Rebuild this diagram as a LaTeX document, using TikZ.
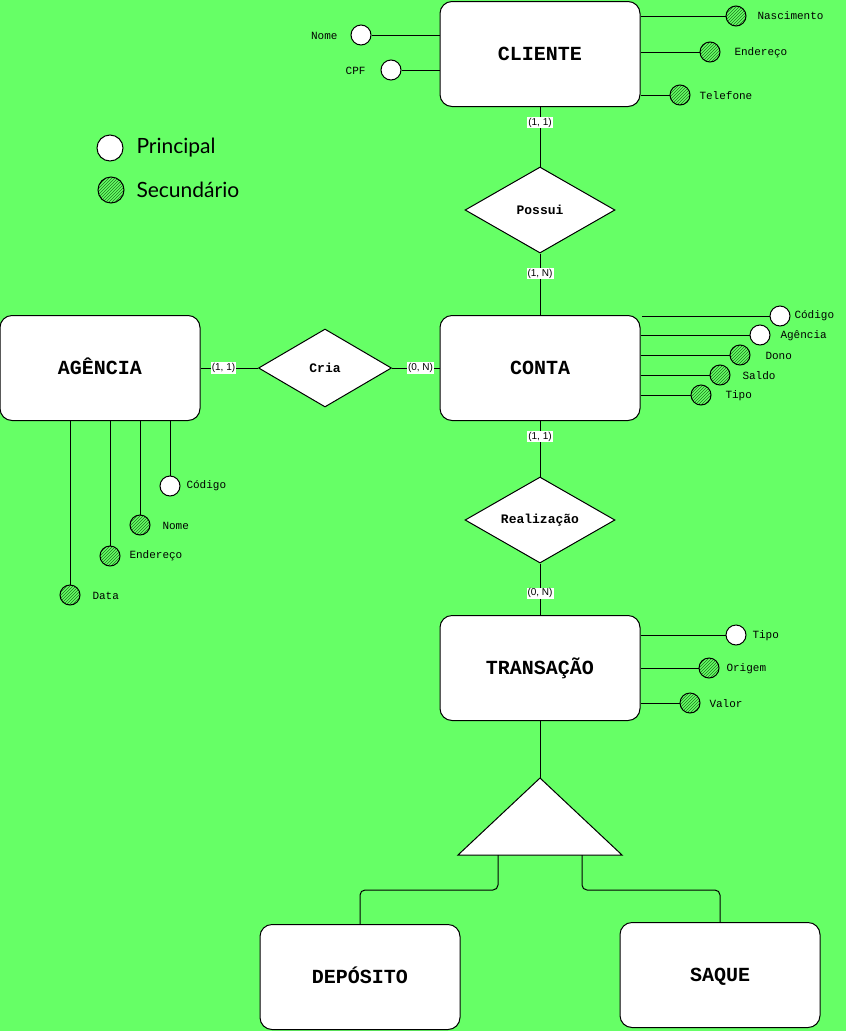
\documentclass[tikz,border=0pt]{standalone}
\usepackage{fontspec}
\setmonofont{Liberation Mono}
\newfontfamily\cardfont{Liberation Sans}
\newfontfamily\legendfont{Lato}
\usetikzlibrary{positioning, shapes.geometric, patterns}
\definecolor{fundo}{HTML}{66FF66}
\definecolor{hachura}{HTML}{1E7A1E}
\tikzset{
  entidade/.style={draw, fill=white, rounded corners=12pt, minimum width=200pt, minimum height=105pt, text height=12pt, text depth=0pt, font=\ttfamily\bfseries\fontsize{20}{24}\selectfont}, % entity boxes
  relacao/.style={draw, diamond, fill=white, aspect=1.75, minimum width=150pt, minimum height=86pt, inner sep=0pt, font=\ttfamily\bfseries\fontsize{13}{15}\selectfont}, % relationships
  principal/.style={draw, circle, fill=white, minimum size=20pt, inner sep=0pt}, % key attribute
  secundario/.style={draw, circle, pattern=north east lines, pattern color=hachura, minimum size=20pt, inner sep=0pt}, % other attribute
  rotulo/.style={anchor=west, inner sep=0pt, font=\ttfamily\fontsize{11}{13}\selectfont}, % attribute names
  card/.style={fill=white, inner sep=1pt, font=\cardfont\fontsize{10}{12}\selectfont}, % cardinalities
  legenda/.style={anchor=west, inner sep=0pt, font=\legendfont\fontsize{21}{24}\selectfont}, % legend text
}

\begin{document}
\begin{tikzpicture}[x=1pt, y=-1pt, on grid, line width=1pt]
  \fill[fundo] (0,0) rectangle (846,1031);
  \useasboundingbox (0,0) rectangle (846,1031);

  % legend
  \node[principal, minimum size=26pt] (lprin) at (110,148) {};
  \node[legenda] (tprin) at (136,148) {Principal};
  \node[secundario, minimum size=26pt] (lsec) at (111,190) {};
  \node[legenda] (tsec) at (136,190) {Secundário};

  % entities and relationships
  \node[entidade] (cliente) at (540,54) {CLIENTE};
  \node[relacao, below=156pt of cliente] (possui) {Possui};
  \node[entidade, below=158pt of possui] (conta) {CONTA};
  \node[relacao, left=215pt of conta, minimum width=133pt, minimum height=78pt] (cria) {Cria};
  \node[entidade, left=440pt of conta] (agencia) {AGÊNCIA};
  \node[relacao, below=152pt of conta] (realizacao) {Realização};
  \node[entidade, below=148pt of realizacao] (transacao) {TRANSAÇÃO};
  \node[entidade] (deposito) at (360,977) {DEPÓSITO};
  \node[entidade] (saque) at (720,975) {SAQUE};

  \draw (cliente) -- node[card, pos=0.26]{(1, 1)} (possui);
  \draw (possui) -- node[card, pos=0.33]{(1, N)} (conta);
  \draw (agencia) -- node[card, pos=0.4]{(1, 1)} (cria);
  \draw (cria) -- node[card, pos=0.6]{(0, N)} (conta);
  \draw (conta) -- node[card, pos=0.28]{(1, 1)} (realizacao);
  \draw (realizacao) -- node[card, pos=0.58]{(0, N)} (transacao);

  % specialization
  \coordinate (topo) at (540,778);
  \coordinate (cantoD) at (622,855);
  \coordinate (cantoE) at (458,855);
  \coordinate (baseE) at (498,855);
  \coordinate (baseD) at (582,855);
  \draw (transacao) -- (topo);
  \filldraw[fill=white] (topo) -- (cantoD) -- (cantoE) -- cycle;
  \draw[rounded corners=5pt] (baseE) -- ++(0,35) -| (deposito.north);
  \draw[rounded corners=5pt] (baseD) -- ++(0,35) -| (saque.north);

  % CLIENTE attributes
  \node[principal] (cnome) at (361,35) {};
  \node[rotulo, anchor=east] (tcnome) at (338,36) {Nome};
  \node[principal] (ccpf) at (391,70) {};
  \node[rotulo, anchor=east] (tccpf) at (366,71) {CPF};
  \node[secundario] (cnasc) at (736,16) {};
  \node[rotulo] (tcnasc) at (757,16) {Nascimento};
  \node[secundario] (cend) at (710,52) {};
  \node[rotulo] (tcend) at (734,53) {Endereço};
  \node[secundario] (ctel) at (680,95) {};
  \node[rotulo] (tctel) at (699,96) {Telefone};
  \foreach \a in {cnome, ccpf} \draw (\a) -- (\a -| cliente.west);
  \foreach \a in {cnasc, cend, ctel} \draw (\a) -- (\a -| cliente.east);

  % CONTA attributes
  \node[principal] (kcod) at (780,316) {};
  \node[rotulo] (tkcod) at (794,316) {Código};
  \node[principal] (kag) at (760,335) {};
  \node[rotulo] (tkag) at (780,336) {Agência};
  \node[secundario] (kdono) at (740,355) {};
  \node[rotulo] (tkdono) at (765,356) {Dono};
  \node[secundario] (ksaldo) at (720,375) {};
  \node[rotulo] (tksaldo) at (742,376) {Saldo};
  \node[secundario] (ktipo) at (701,395) {};
  \node[rotulo] (tktipo) at (725,396) {Tipo};
  \foreach \a in {kag, kdono, ksaldo, ktipo} \draw (\a) -- (\a -| conta.east);
  \draw (kcod) -- (642,316);

  % AGÊNCIA attributes
  \node[principal] (acod) at (170,486) {};
  \node[rotulo] (tacod) at (186,486) {Código};
  \node[secundario] (anome) at (140,525) {};
  \node[rotulo] (tanome) at (162,526) {Nome};
  \node[secundario] (aend) at (110,556) {};
  \node[rotulo] (taend) at (129,556) {Endereço};
  \node[secundario] (adata) at (70,595) {};
  \node[rotulo] (tadata) at (92,596) {Data};
  \foreach \a in {acod, anome, aend, adata} \draw (\a) -- (\a |- agencia.south);

  % TRANSAÇÃO attributes
  \node[principal] (ttipo) at (736,635) {};
  \node[rotulo] (tttipo) at (752,636) {Tipo};
  \node[secundario] (torig) at (709,668) {};
  \node[rotulo] (ttorig) at (726,669) {Origem};
  \node[secundario] (tval) at (690,703) {};
  \node[rotulo] (ttval) at (709,704) {Valor};
  \foreach \a in {ttipo, torig, tval} \draw (\a) -- (\a -| transacao.east);
\end{tikzpicture}
\end{document}
